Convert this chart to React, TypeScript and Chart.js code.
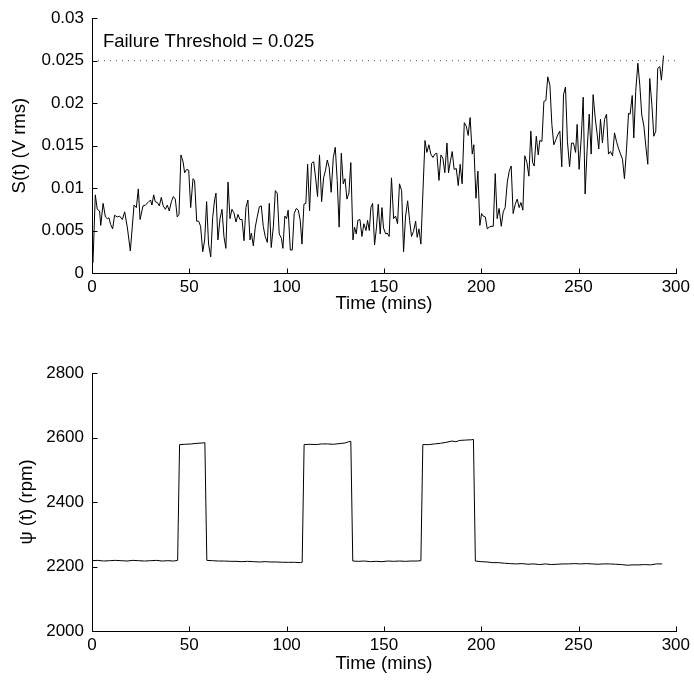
import React, { useEffect, useRef } from "react";
import { Chart, registerables } from "chart.js";

Chart.register(...registerables);

// ---- Top panel: S(t) ----
const sTime1 = [0.5, 1.7, 2.7, 3.9, 4.5, 5.7, 6.9, 7.9, 8.7, 9.6, 10.6, 11.6, 13.0, 14.2, 15.6, 16.8, 18.2, 19.7, 21.6, 22.8, 23.8, 24.7, 26.2, 27.4, 28.8, 30.1, 30.8, 31.7, 32.5, 33.6, 34.6, 35.6, 36.6, 37.7, 38.7, 39.7, 40.8, 41.8, 42.8, 43.8, 44.7, 45.7, 46.8, 47.6, 48.6, 49.7, 50.7, 51.9, 52.7, 53.8, 54.8, 55.8, 56.9, 57.9, 58.9, 59.9, 61.0, 62.0, 63.0, 63.7, 64.7, 65.8, 66.8, 67.8, 68.8, 69.9, 70.9, 71.9, 72.9, 74.0, 75.0, 76.0, 77.1, 78.1, 79.1, 80.1, 81.2, 81.9, 82.9, 83.9, 84.9, 86.0, 87.0, 88.0, 89.0, 90.1, 91.1, 92.1, 93.2, 94.2, 95.2, 96.2, 97.3, 98.1];
const sValue1 = [0.0012, 0.0092, 0.0075, 0.0073, 0.0056, 0.0082, 0.0066, 0.0064, 0.0065, 0.0057, 0.0052, 0.0068, 0.0066, 0.0067, 0.0063, 0.0072, 0.0053, 0.0026, 0.008, 0.0077, 0.0099, 0.0063, 0.0079, 0.008, 0.0083, 0.0086, 0.008, 0.0092, 0.0084, 0.0083, 0.0079, 0.0089, 0.0079, 0.0075, 0.008, 0.0073, 0.0084, 0.009, 0.0087, 0.0066, 0.0069, 0.0139, 0.0131, 0.0118, 0.0122, 0.0121, 0.0077, 0.0111, 0.0109, 0.0061, 0.0061, 0.0055, 0.0025, 0.0039, 0.0084, 0.0034, 0.0019, 0.0065, 0.0086, 0.0094, 0.0039, 0.0064, 0.0075, 0.0043, 0.0029, 0.0107, 0.0064, 0.0075, 0.0071, 0.006, 0.0069, 0.0063, 0.0063, 0.0038, 0.0077, 0.0086, 0.0039, 0.0047, 0.0032, 0.0054, 0.0066, 0.0078, 0.0079, 0.0055, 0.0043, 0.0036, 0.0082, 0.003, 0.0055, 0.0097, 0.0094, 0.0046, 0.0041, 0.0029];

const sTime2 = [99.1, 100.0, 100.8, 101.9, 102.9, 103.9, 105.0, 106.0, 107.0, 107.9, 108.9, 109.9, 110.8, 111.8, 112.8, 113.9, 114.9, 115.9, 116.9, 118.0, 119.0, 120.0, 120.9, 121.9, 122.9, 124.0, 125.0, 126.0, 127.0, 128.1, 129.1, 130.0, 131.0, 132.0, 133.0, 134.1, 134.9, 135.8, 136.6, 137.7, 138.7, 139.7, 140.8, 141.6, 142.5, 143.3, 144.2, 145.2, 146.2, 147.1, 148.1, 149.0, 149.8, 150.9, 151.7, 152.7, 153.9, 155.0, 156.0, 157.0, 158.0, 159.1, 160.1, 161.1, 162.2, 163.2, 164.2, 165.2, 166.3, 167.1, 168.0, 169.0, 170.0, 171.1, 172.1, 173.1, 174.1, 175.2, 176.2, 177.2, 178.3, 179.3, 180.3, 181.3, 182.4, 183.2, 184.2, 185.1, 186.1, 187.2, 188.2, 189.2, 190.2, 191.3, 192.3, 193.3, 194.3, 195.4, 196.2, 197.3, 198.3, 199.3];
const sValue2 = [0.0067, 0.0064, 0.0074, 0.0027, 0.0027, 0.007, 0.0076, 0.0074, 0.0062, 0.0034, 0.0081, 0.0082, 0.0128, 0.0073, 0.0129, 0.0131, 0.0112, 0.009, 0.0139, 0.0084, 0.0112, 0.0121, 0.0133, 0.0124, 0.0095, 0.0136, 0.0148, 0.0109, 0.0054, 0.0141, 0.0105, 0.0111, 0.0087, 0.0094, 0.013, 0.0039, 0.0054, 0.0046, 0.0062, 0.0063, 0.0043, 0.0058, 0.005, 0.0062, 0.005, 0.0077, 0.0082, 0.0033, 0.0054, 0.0081, 0.0046, 0.0077, 0.0053, 0.0046, 0.0047, 0.0043, 0.0112, 0.0064, 0.0067, 0.0058, 0.0105, 0.0097, 0.0025, 0.0066, 0.0085, 0.0062, 0.0043, 0.0049, 0.0061, 0.0042, 0.0052, 0.0034, 0.0093, 0.0156, 0.0142, 0.0151, 0.014, 0.0136, 0.014, 0.0141, 0.0109, 0.0139, 0.0135, 0.0118, 0.0153, 0.0118, 0.0132, 0.0143, 0.0122, 0.0123, 0.0103, 0.0128, 0.0105, 0.0177, 0.0173, 0.0162, 0.0183, 0.014, 0.0151, 0.0088, 0.012, 0.0056];

const sTime3 = [200.2, 201.0, 202.1, 203.1, 204.1, 205.1, 206.2, 207.2, 208.2, 209.2, 210.3, 211.3, 212.3, 213.4, 214.4, 215.4, 216.4, 217.5, 218.5, 219.5, 220.4, 221.4, 222.4, 223.5, 224.5, 225.5, 226.4, 227.2, 228.3, 229.3, 230.1, 231.2, 232.2, 233.2, 234.2, 235.3, 236.3, 237.3, 238.4, 239.4, 240.4, 241.4, 242.3, 243.3, 244.3, 245.4, 246.4, 247.4, 248.5, 249.3, 250.3, 251.4, 252.4, 253.4, 254.4, 255.5, 256.5, 257.5, 258.6, 259.6, 260.4, 261.3, 262.3, 263.4, 264.4, 265.4, 266.4, 267.5, 268.5, 269.5, 270.5, 271.6, 272.6, 273.6, 274.7, 275.7, 276.5, 277.6, 278.4, 279.4, 280.5, 281.5, 282.5, 283.6, 284.6, 285.6, 286.6, 287.7, 288.7, 289.7, 290.7, 291.8, 292.6, 293.7];
const sValue3 = [0.007, 0.0067, 0.0066, 0.0052, 0.0054, 0.0055, 0.0055, 0.0117, 0.0064, 0.0076, 0.0055, 0.0072, 0.0077, 0.0107, 0.012, 0.0126, 0.007, 0.0081, 0.0087, 0.0077, 0.0083, 0.0074, 0.0138, 0.013, 0.0114, 0.0167, 0.013, 0.0126, 0.0161, 0.0139, 0.0156, 0.0155, 0.0202, 0.0203, 0.0231, 0.0221, 0.0175, 0.0151, 0.0157, 0.0163, 0.0167, 0.0125, 0.021, 0.0219, 0.0155, 0.0125, 0.0153, 0.0153, 0.0142, 0.0175, 0.0122, 0.0159, 0.0207, 0.0093, 0.0144, 0.0187, 0.014, 0.021, 0.0182, 0.0163, 0.0146, 0.0181, 0.0153, 0.0181, 0.0187, 0.014, 0.0143, 0.0138, 0.0165, 0.0155, 0.0147, 0.014, 0.0134, 0.0111, 0.0147, 0.0188, 0.0187, 0.0209, 0.0159, 0.0214, 0.0247, 0.0221, 0.0186, 0.0173, 0.0149, 0.0128, 0.0229, 0.0198, 0.0161, 0.0167, 0.0241, 0.0243, 0.0227, 0.0256];

const threshold = 0.025;
const thresholdLabel = "Failure Threshold = 0.025";
const sTicks = [0, 0.005, 0.01, 0.015, 0.02, 0.025, 0.03];
const timeTicks = [0, 50, 100, 150, 200, 250, 300];

// ---- Bottom panel: psi(t) ----
const rpmTime = [0, 3, 6, 9, 12, 15, 18, 21, 24, 27, 30, 33, 36, 39, 42, 44, 45, 48, 51, 54, 57, 58, 59, 62, 65, 68, 71, 74, 77, 80, 83, 86, 89, 92, 95, 98, 101, 104, 107, 108, 109, 112, 115, 118, 121, 124, 127, 130, 132, 133, 134, 137, 140, 143, 146, 149, 152, 155, 158, 161, 164, 167, 169, 170, 173, 176, 179, 182, 185, 187, 189, 192, 195, 196, 197, 200, 203, 206, 209, 212, 215, 218, 221, 224, 227, 230, 233, 236, 239, 242, 245, 248, 251, 254, 257, 260, 263, 266, 269, 272, 275, 278, 281, 284, 287, 290, 293];
const rpmValue = [2218, 2219, 2217, 2218, 2219, 2218, 2217, 2219, 2218, 2217, 2218, 2219, 2217, 2218, 2217, 2219, 2578, 2579, 2580, 2582, 2583, 2584, 2219, 2218, 2217, 2217, 2216, 2216, 2215, 2216, 2215, 2214, 2215, 2214, 2214, 2213, 2213, 2213, 2212, 2213, 2578, 2579, 2578, 2580, 2580, 2579, 2581, 2583, 2587, 2588, 2217, 2216, 2217, 2215, 2216, 2215, 2217, 2216, 2217, 2216, 2217, 2217, 2218, 2578, 2578, 2580, 2582, 2585, 2589, 2587, 2591, 2592, 2593, 2594, 2217, 2215, 2214, 2212, 2212, 2210, 2209, 2208, 2209, 2207, 2208, 2206, 2208, 2206, 2207, 2208, 2208, 2209, 2208, 2209, 2208, 2207, 2208, 2208, 2207, 2206, 2204, 2205, 2205, 2206, 2205, 2208, 2208];
const rpmTicks = [2000, 2200, 2400, 2600, 2800];

const FONT = "'Liberation Sans', Arial, Helvetica, sans-serif";
const FS = 17;
const TFS = 18.5;

function toXY(t: number[], v: number[]) {
  return t.map((x, i) => ({ x, y: v[i] }));
}

const matlabAxes = {
  id: "matlabAxes",
  afterDatasetsDraw(chart: any, _args: any, opts: any) {
    const { ctx, chartArea } = chart;
    const xs = chart.scales.x;
    const ys = chart.scales.y;
    const L = Math.round(chartArea.left) + 0.5;
    const B = Math.round(chartArea.bottom) + 0.5;
    ctx.save();
    ctx.strokeStyle = "#000";
    ctx.lineWidth = 1;
    ctx.beginPath();
    ctx.moveTo(L, Math.round(chartArea.top));
    ctx.lineTo(L, B);
    ctx.lineTo(Math.round(chartArea.right) + 1, B);
    for (const t of opts.xTicks) {
      const px = Math.round(xs.getPixelForValue(t)) + 0.5;
      ctx.moveTo(px, B);
      ctx.lineTo(px, B - 5);
    }
    for (const t of opts.yTicks) {
      const py = Math.round(ys.getPixelForValue(t)) + 0.5;
      ctx.moveTo(L, py);
      ctx.lineTo(L + 5, py);
    }
    ctx.stroke();
    if (opts.label) {
      ctx.fillStyle = "#000";
      ctx.font = `${TFS}px ${FONT}`;
      ctx.textAlign = "left";
      ctx.textBaseline = "middle";
      ctx.fillText(opts.label.text, xs.getPixelForValue(opts.label.x), ys.getPixelForValue(opts.label.y));
    }
    ctx.restore();
  },
};

function makeOptions(cfg: any): any {
  return {
    responsive: false,
    animation: false,
    devicePixelRatio: 1,
    layout: { padding: { top: cfg.padTop, right: 18, left: 0, bottom: 0 } },
    plugins: {
      legend: { display: false },
      tooltip: { enabled: false },
      matlabAxes: { xTicks: timeTicks, yTicks: cfg.yTicks, label: cfg.label },
    },
    elements: { point: { radius: 0 }, line: { tension: 0 } },
    scales: {
      x: {
        type: "linear",
        min: 0,
        max: 300,
        grid: { display: false, drawTicks: false },
        border: { display: false },
        afterBuildTicks: (s: any) => {
          s.ticks = timeTicks.map((v) => ({ value: v }));
        },
        ticks: { color: "#000", font: { family: FONT, size: FS }, padding: 4, maxRotation: 0, autoSkip: false },
        title: { display: true, text: "Time (mins)", color: "#000", font: { family: FONT, size: TFS }, padding: { top: 0, bottom: cfg.xTitlePad } },
        afterFit: (s: any) => {
          s.height = cfg.xHeight;
        },
      },
      y: {
        type: "linear",
        min: cfg.yMin,
        max: cfg.yMax,
        grid: { display: false, drawTicks: false },
        border: { display: false },
        afterBuildTicks: (s: any) => {
          s.ticks = cfg.yTicks.map((v: number) => ({ value: v }));
        },
        ticks: {
          color: "#000",
          font: { family: FONT, size: FS },
          padding: 8,
          autoSkip: false,
          callback: (v: number) => String(parseFloat(Number(v).toFixed(4))),
        },
        title: { display: true, text: cfg.yTitle, color: "#000", font: { family: FONT, size: TFS }, padding: { top: cfg.yTitlePad, bottom: 0 } },
        afterFit: (s: any) => {
          s.width = 92;
        },
      },
    },
  };
}

export default function App() {
  const topRef = useRef<HTMLCanvasElement>(null);
  const botRef = useRef<HTMLCanvasElement>(null);

  useEffect(() => {
    document.body.style.margin = "0";
    const sData = [...toXY(sTime1, sValue1), ...toXY(sTime2, sValue2), ...toXY(sTime3, sValue3)];
    const top = new Chart(topRef.current!, {
      type: "line",
      data: {
        datasets: [
          {
            data: [
              { x: 0, y: threshold },
              { x: 300, y: threshold },
            ],
            borderColor: "#555",
            borderWidth: 1,
            borderDash: [1, 5],
            pointRadius: 0,
          },
          { data: sData, borderColor: "#000", borderWidth: 1, pointRadius: 0 },
        ],
      },
      options: makeOptions({
        padTop: 16,
        xHeight: 69,
        xTitlePad: 27,
        yMin: 0,
        yMax: 0.03,
        yTicks: sTicks,
        yTitle: "S(t) (V rms)",
        yTitlePad: 9,
        label: { text: thresholdLabel, x: 5.6, y: 0.0272 },
      }),
      plugins: [matlabAxes],
    });
    const bot = new Chart(botRef.current!, {
      type: "line",
      data: {
        datasets: [{ data: toXY(rpmTime, rpmValue), borderColor: "#000", borderWidth: 1, pointRadius: 0 }],
      },
      options: makeOptions({
        padTop: 31,
        xHeight: 53,
        xTitlePad: 9,
        yMin: 2000,
        yMax: 2800,
        yTicks: rpmTicks,
        yTitle: "\u03C8 (t) (rpm)",
        yTitlePad: 16,
        label: null,
      }),
      plugins: [matlabAxes],
    });
    return () => {
      top.destroy();
      bot.destroy();
    };
  }, []);

  return (
    <div style={{ position: "absolute", left: 0, top: 0, width: 694, height: 684, background: "#fff" }}>
      <canvas ref={topRef} width={694} height={342} style={{ position: "absolute", left: 0, top: 0 }} />
      <canvas ref={botRef} width={694} height={342} style={{ position: "absolute", left: 0, top: 342 }} />
    </div>
  );
}
